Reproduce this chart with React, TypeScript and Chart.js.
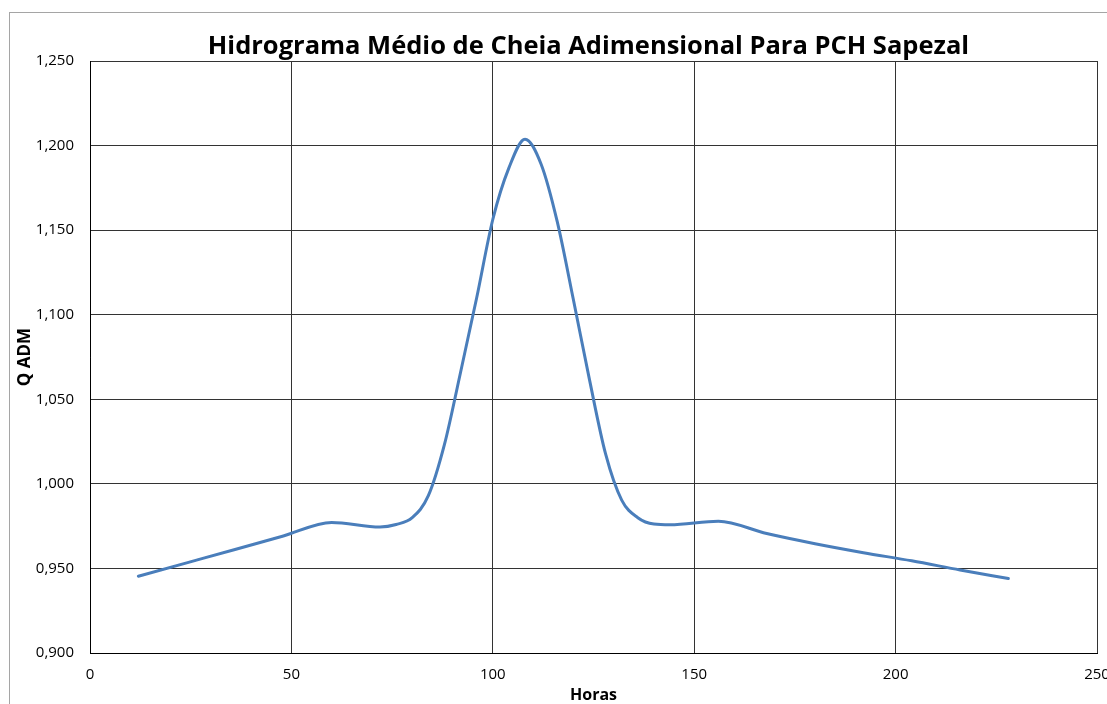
import React, { useEffect, useRef } from 'react';
import { Chart, registerables } from 'chart.js';

Chart.register(...registerables);

// ---- data ----
const hours = [
  12, 24, 36, 48, 60, 72, 76, 80, 84, 88, 92, 96, 100, 104, 108, 112, 116, 120, 124, 128,
  132, 136, 140, 144, 156, 168, 180, 192, 204, 216, 228,
];
const qAdm = [
  0.9454, 0.9533, 0.9612, 0.9692, 0.9772, 0.9745, 0.976, 0.98, 0.993, 1.0233, 1.066, 1.11,
  1.1563, 1.1868, 1.2038, 1.189, 1.155, 1.109, 1.0616, 1.0177, 0.9904, 0.98, 0.9762,
  0.9758, 0.9779, 0.9706, 0.9646, 0.9593, 0.9545, 0.9491, 0.944,
];
const xTickValues = [0, 50, 100, 150, 200, 250];
const xTickLabels = ['0', '50', '100', '150', '200', '250'];
const yTickValues = [0.9, 0.95, 1.0, 1.05, 1.1, 1.15, 1.2, 1.25];
const yTickLabels = ['0,900', '0,950', '1,000', '1,050', '1,100', '1,150', '1,200', '1,250'];
const chartTitle = 'Hidrograma Médio de Cheia Adimensional Para PCH Sapezal';
const xTitle = 'Horas';
const yTitle = 'Q ADM';

const CANVAS_W = 1140;
const CANVAS_H = 720;
const FONT = '"Open Sans", "DejaVu Sans", sans-serif';

const titlePlugin = {
  id: 'excelTitle',
  afterDraw(chart: any) {
    const ctx = chart.ctx;
    ctx.save();
    ctx.font = `bold 25.5px ${FONT}`;
    ctx.fillStyle = '#000';
    ctx.textAlign = 'center';
    ctx.textBaseline = 'alphabetic';
    ctx.fillText(chartTitle, 588.5, 53.5);
    ctx.restore();
  },
};

export default function App() {
  const ref = useRef<HTMLCanvasElement | null>(null);

  useEffect(() => {
    if (!ref.current) return;
    const chart = new Chart(ref.current, {
      type: 'line',
      data: {
        datasets: [
          {
            label: yTitle,
            data: hours.map((h, i) => ({ x: h, y: qAdm[i] })),
            borderColor: '#4a7ebb',
            backgroundColor: '#4a7ebb',
            borderWidth: 3,
            pointRadius: 0,
            fill: false,
            cubicInterpolationMode: 'monotone',
            borderCapStyle: 'round',
            borderJoinStyle: 'round',
          },
        ],
      },
      plugins: [titlePlugin],
      options: {
        animation: false,
        responsive: false,
        devicePixelRatio: 1,
        layout: { padding: { top: 61, left: 0, right: CANVAS_W - 1097, bottom: 0 } },
        plugins: {
          legend: { display: false },
          tooltip: { enabled: false },
          title: { display: false },
        },
        scales: {
          x: {
            type: 'linear',
            min: 0,
            max: 250,
            afterFit: (scale: any) => {
              scale.height = CANVAS_H - 653;
            },
            afterBuildTicks: (scale: any) => {
              scale.ticks = xTickValues.map((v) => ({ value: v }));
            },
            ticks: {
              callback: (_v: any, i: number) => xTickLabels[i],
              color: '#000',
              font: { family: FONT, size: 15 },
              padding: 13,
              maxRotation: 0,
              autoSkip: false,
            },
            grid: { color: '#333', lineWidth: 1, drawTicks: false },
            border: { display: true, color: '#000', width: 1 },
            title: {
              display: true,
              text: xTitle,
              color: '#000',
              font: { family: FONT, size: 16, weight: 'bold' },
              padding: { top: 0, bottom: 15 },
            },
          },
          y: {
            type: 'linear',
            min: 0.9,
            max: 1.25,
            afterFit: (scale: any) => {
              scale.width = 90;
            },
            afterBuildTicks: (scale: any) => {
              scale.ticks = yTickValues.map((v) => ({ value: v }));
            },
            ticks: {
              callback: (_v: any, i: number) => yTickLabels[i],
              color: '#000',
              font: { family: FONT, size: 15 },
              padding: 16,
              autoSkip: false,
            },
            grid: { color: '#333', lineWidth: 1, drawTicks: false },
            border: { display: true, color: '#000', width: 1 },
            title: {
              display: true,
              text: yTitle,
              color: '#000',
              font: { family: FONT, size: 17, weight: 'bold' },
              padding: { top: 15, bottom: 0 },
            },
          },
        },
      } as any,
    });
    return () => chart.destroy();
  }, []);

  return (
    <div
      style={{
        position: 'absolute',
        left: 0,
        top: 0,
        width: 1107,
        height: 704,
        overflow: 'hidden',
        background: '#fff',
      }}
    >
      <div
        style={{
          position: 'absolute',
          left: 9,
          top: 12,
          width: 1200,
          height: 800,
          border: '1px solid #a5a5a5',
        }}
      />
      <canvas
        ref={ref}
        width={CANVAS_W}
        height={CANVAS_H}
        style={{ position: 'absolute', left: 0, top: 0, width: CANVAS_W, height: CANVAS_H }}
      />
    </div>
  );
}
